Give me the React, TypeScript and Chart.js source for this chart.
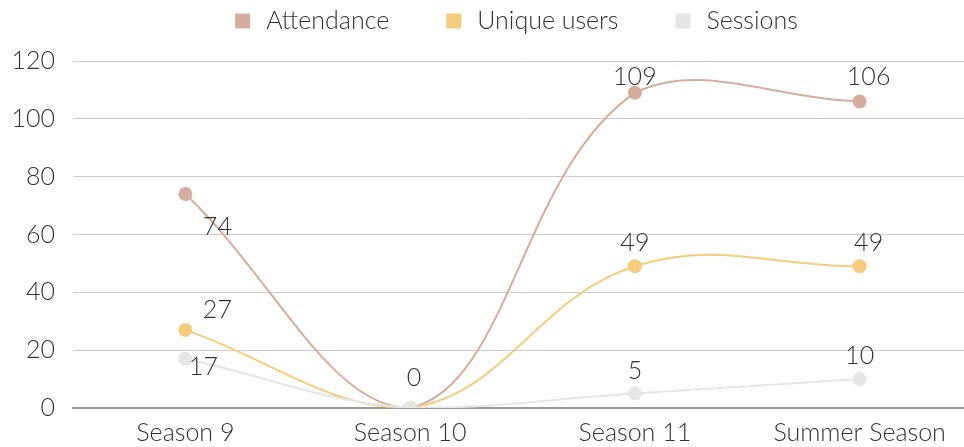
import React, { useEffect, useRef } from "react";
import { Chart, registerables } from "chart.js";

Chart.register(...registerables);

const categories = ["Season 9", "Season 10", "Season 11", "Summer Season"];
const attendance = [74, 0, 109, 106];
const uniqueUsers = [27, 0, 49, 49];
const sessions = [17, 0, 5, 10];
const yTicks = [0, 20, 40, 60, 80, 100, 120];
const seriesNames = ["Attendance", "Unique users", "Sessions"];
const seriesColors = ["#d5ad9f", "#f5cc7c", "#e6e6e6"];

const FONT = "Lato, 'DejaVu Sans', sans-serif";
const FONT_SIZE = 25;
const TEXT_COLOR = "#333333";

// label placement tweaks (dataset index -> point index -> [dx, dy] from point)
const labelOffsets: Record<number, Record<number, [number, number]>> = {
  0: { 0: [32, 33], 1: [4, -30], 2: [0, -16], 3: [9, -25] },
  1: { 0: [32, -20], 1: [4, -30], 3: [9, -23] },
  2: { 0: [18, 8], 1: [4, -30] },
};

const dataLabelPlugin = {
  id: "dataLabels",
  afterDatasetsDraw(chart: any) {
    const ctx = chart.ctx;
    ctx.save();
    ctx.font = `300 ${FONT_SIZE}px ${FONT}`;
    ctx.fillStyle = TEXT_COLOR;
    ctx.textAlign = "center";
    ctx.textBaseline = "middle";
    const drawn = new Set<string>();
    chart.data.datasets.forEach((ds: any, di: number) => {
      const meta = chart.getDatasetMeta(di);
      meta.data.forEach((pt: any, i: number) => {
        const v = ds.data[i];
        const off = (labelOffsets[di] && labelOffsets[di][i]) || [0, -23];
        const key = `${i}:${v}`;
        if (v === 0 && drawn.has(key)) return;
        drawn.add(key);
        ctx.fillText(String(v), pt.x + off[0], pt.y + off[1]);
      });
    });
    ctx.restore();
  },
};

const legendPlugin = {
  id: "customLegend",
  afterDraw(chart: any) {
    const ctx = chart.ctx;
    const box = 15;
    const boxGap = 16;
    const itemGap = 57;
    const centerY = 21;
    ctx.save();
    ctx.font = `300 ${FONT_SIZE}px ${FONT}`;
    ctx.textBaseline = "middle";
    ctx.textAlign = "left";
    const items = chart.data.datasets.map((ds: any) => ({
      text: ds.label,
      color: ds.backgroundColor,
      w: ctx.measureText(ds.label).width,
    }));
    const total =
      items.reduce((s: number, it: any) => s + box + boxGap + it.w, 0) +
      itemGap * (items.length - 1);
    const center = (chart.chartArea.left + chart.chartArea.right) / 2 - 6;
    let x = center - total / 2;
    items.forEach((it: any) => {
      ctx.fillStyle = it.color;
      ctx.fillRect(x, centerY - box / 2, box, box);
      ctx.fillStyle = TEXT_COLOR;
      ctx.fillText(it.text, x + box + boxGap, centerY);
      x += box + boxGap + it.w + itemGap;
    });
    ctx.restore();
  },
};

export default function App() {
  const ref = useRef<HTMLCanvasElement | null>(null);
  useEffect(() => {
    document.body.style.margin = "0";
    const series = [attendance, uniqueUsers, sessions];
    const orders = [2, 1, 0];
    const chart = new Chart(ref.current as HTMLCanvasElement, {
      type: "line",
      data: {
        labels: categories,
        datasets: series.map((data, i) => ({
          label: seriesNames[i],
          data,
          order: orders[i],
          borderColor: seriesColors[i],
          backgroundColor: seriesColors[i],
          pointBackgroundColor: seriesColors[i],
          pointBorderColor: seriesColors[i],
          pointRadius: 6,
          pointHoverRadius: 6,
          borderWidth: 2,
          tension: 0.4,
          fill: false,
        })),
      },
      options: {
        animation: false,
        responsive: false,
        maintainAspectRatio: false,
        layout: { padding: { left: 13, right: 0, top: 61, bottom: 0 } },
        plugins: {
          tooltip: { enabled: false },
          legend: { display: false },
        },
        scales: {
          x: {
            offset: true,
            grid: { display: false, drawTicks: false },
            border: { display: true, color: "#999999", width: 2 },
            ticks: {
              font: { family: FONT, size: FONT_SIZE, weight: "300" },
              color: TEXT_COLOR,
              padding: 10,
              maxRotation: 0,
              autoSkip: false,
            },
            afterFit: (axis: any) => {
              axis.height = 39;
            },
          },
          y: {
            min: 0,
            max: 120,
            afterBuildTicks: (axis: any) => {
              axis.ticks = yTicks.map((v) => ({ value: v }));
            },
            afterFit: (axis: any) => {
              axis.width = 60;
            },
            grid: { color: "#cccccc", lineWidth: 1, drawTicks: false },
            border: { display: false },
            ticks: {
              font: { family: FONT, size: FONT_SIZE, weight: "300" },
              color: TEXT_COLOR,
              padding: 18,
            },
          },
        },
      },
      plugins: [dataLabelPlugin, legendPlugin],
    } as any);
    return () => chart.destroy();
  }, []);
  return (
    <div style={{ position: "fixed", left: 0, top: 0, width: 964, height: 447, overflow: "hidden", background: "#fff" }}>
      <div style={{ width: 980, height: 447 }}>
        <canvas ref={ref} width={980} height={447} style={{ width: 980, height: 447 }} />
      </div>
    </div>
  );
}
